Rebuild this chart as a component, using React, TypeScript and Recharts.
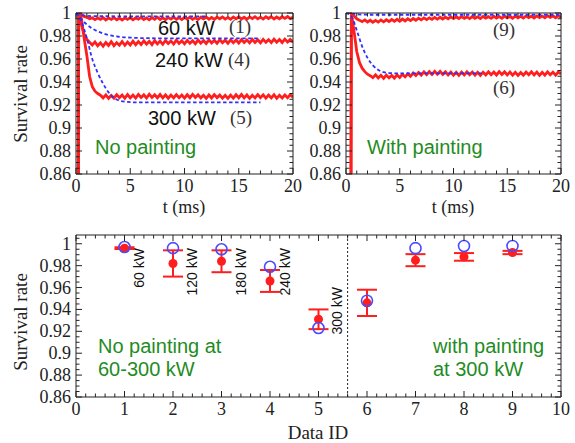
import React from 'react';
import { ComposedChart, Line, Scatter, ErrorBar, XAxis, YAxis, ReferenceLine } from 'recharts';

// time axis shared by the measured (red) traces, ms
const tMs = [
  0, 0.25, 0.5, 0.75, 1, 1.25, 1.5, 1.75, 2, 2.25,
  2.5, 2.75, 3, 3.25, 3.5, 3.75, 4, 4.25, 4.5, 4.75,
  5, 5.25, 5.5, 5.75, 6, 6.25, 6.5, 6.75, 7, 7.25,
  7.5, 7.75, 8, 8.25, 8.5, 8.75, 9, 9.25, 9.5, 9.75,
  10, 10.25, 10.5, 10.75, 11, 11.25, 11.5, 11.75, 12, 12.25,
  12.5, 12.75, 13, 13.25, 13.5, 13.75, 14, 14.25, 14.5, 14.75,
  15, 15.25, 15.5, 15.75, 16, 16.25, 16.5, 16.75, 17, 17.25,
  17.5, 17.75, 18, 18.25, 18.5, 18.75, 19, 19.25, 19.5, 19.75,
  20,
];

// measured survival, no painting
const meas60 = [
  0, 1.0, 0.9985, 0.997, 0.9962, 0.995, 0.9958, 0.9942, 0.9957, 0.9944,
  0.9959, 0.994, 0.9956, 0.9945, 0.9961, 0.9941, 0.9955, 0.9939, 0.9958, 0.9944,
  0.996, 0.9942, 0.9957, 0.9946, 0.9962, 0.9943, 0.9958, 0.9941, 0.996, 0.9945,
  0.9963, 0.9944, 0.9958, 0.9942, 0.9961, 0.9947, 0.9964, 0.9945, 0.9959, 0.9943,
  0.9962, 0.9948, 0.9964, 0.9945, 0.996, 0.9943, 0.9963, 0.9949, 0.9965, 0.9946,
  0.9961, 0.9944, 0.9964, 0.995, 0.9966, 0.9947, 0.9962, 0.9945, 0.9965, 0.9949,
  0.9967, 0.9948, 0.9963, 0.9946, 0.9966, 0.9951, 0.9968, 0.9949, 0.9964, 0.9947,
  0.9967, 0.9952, 0.9968, 0.9948, 0.9965, 0.995, 0.9967, 0.9953, 0.9969, 0.9951,
  0.9962,
];
const meas240 = [
  0, 1.0, 0.99, 0.9815, 0.977, 0.9745, 0.9722, 0.9748, 0.9715, 0.974,
  0.9712, 0.9744, 0.9718, 0.975, 0.9716, 0.9742, 0.972, 0.9752, 0.9719, 0.9747,
  0.9722, 0.9755, 0.9724, 0.9751, 0.9726, 0.9758, 0.9729, 0.9754, 0.9725, 0.976,
  0.9731, 0.9756, 0.9728, 0.9761, 0.9734, 0.9757, 0.973, 0.9764, 0.9735, 0.9759,
  0.9732, 0.9762, 0.9736, 0.9758, 0.9733, 0.9765, 0.9738, 0.9761, 0.9735, 0.9766,
  0.974, 0.9763, 0.9736, 0.9768, 0.9741, 0.9764, 0.9737, 0.9767, 0.9742, 0.9765,
  0.9739, 0.9769, 0.9743, 0.9766, 0.974, 0.977, 0.9744, 0.9767, 0.9741, 0.9771,
  0.9745, 0.9768, 0.9742, 0.9772, 0.9746, 0.9769, 0.9743, 0.9773, 0.9747, 0.977,
  0.9748,
];
const meas300 = [
  0, 1.0, 0.995, 0.978, 0.963, 0.945, 0.936, 0.932, 0.93, 0.9285,
  0.9262, 0.9288, 0.9258, 0.9283, 0.926, 0.929, 0.9263, 0.9286, 0.9259, 0.9291,
  0.9262, 0.9287, 0.926, 0.9292, 0.9265, 0.9288, 0.9261, 0.9294, 0.9266, 0.9289,
  0.9263, 0.9291, 0.9262, 0.9288, 0.9259, 0.9286, 0.9261, 0.929, 0.9264, 0.9287,
  0.926, 0.9289, 0.9263, 0.9292, 0.9265, 0.9288, 0.9262, 0.9285, 0.9258, 0.9287,
  0.9261, 0.929, 0.9264, 0.9286, 0.9259, 0.9284, 0.9257, 0.9286, 0.926, 0.9289,
  0.9263, 0.9291, 0.9262, 0.9287, 0.9258, 0.9285, 0.9261, 0.929, 0.9264, 0.9288,
  0.926, 0.9286, 0.9262, 0.9289, 0.9258, 0.9284, 0.9261, 0.9287, 0.9263, 0.929,
  0.9268,
];
// measured survival, with painting at 300 kW
const meas9 = [
  0, 0, 1.0, 0.9975, 0.995, 0.9938, 0.9925, 0.994, 0.9922, 0.9937,
  0.992, 0.9936, 0.9921, 0.9939, 0.9923, 0.9941, 0.9926, 0.9943, 0.9928, 0.9945,
  0.9929, 0.9947, 0.9931, 0.995, 0.9934, 0.9952, 0.9937, 0.9955, 0.994, 0.9957,
  0.9942, 0.9958, 0.9944, 0.9961, 0.9947, 0.9963, 0.9948, 0.9964, 0.995, 0.9966,
  0.9951, 0.9967, 0.9952, 0.9968, 0.9953, 0.9966, 0.9951, 0.9969, 0.9954, 0.9967,
  0.9952, 0.997, 0.9955, 0.9968, 0.9953, 0.9971, 0.9956, 0.9969, 0.9954, 0.9972,
  0.9957, 0.997, 0.9955, 0.9973, 0.9958, 0.9971, 0.9956, 0.9974, 0.9959, 0.9972,
  0.9957, 0.9975, 0.996, 0.9973, 0.9958, 0.9976, 0.9961, 0.9974, 0.9959, 0.9977,
  0.9962,
];
const meas6 = [
  0, 0, 1.0, 0.984, 0.9665, 0.957, 0.952, 0.949, 0.9468, 0.9455,
  0.9438, 0.9462, 0.9435, 0.9458, 0.9432, 0.946, 0.9436, 0.9457, 0.9434, 0.9462,
  0.944, 0.9466, 0.9445, 0.9471, 0.945, 0.9478, 0.9456, 0.9482, 0.946, 0.9488,
  0.9463, 0.949, 0.9466, 0.9493, 0.9468, 0.9492, 0.9465, 0.9489, 0.9462, 0.9487,
  0.946, 0.9485, 0.9458, 0.9486, 0.9461, 0.9488, 0.9463, 0.9486, 0.946, 0.9484,
  0.9457, 0.9485, 0.9462, 0.9489, 0.9464, 0.9487, 0.9461, 0.949, 0.9465, 0.9488,
  0.9462, 0.9486, 0.9459, 0.9484, 0.9457, 0.9483, 0.946, 0.9487, 0.9463, 0.9489,
  0.9461, 0.9486, 0.9458, 0.9485, 0.946, 0.9488, 0.9462, 0.9484, 0.9459, 0.9487,
  0.947,
];

// simulation (blue dashed)
const simT60 = [0, 0.5, 1, 2, 12];
const sim60 = [1, 0.9982, 0.9975, 0.9972, 0.997];
const simT240 = [0, 0.5, 1, 1.5, 2, 2.5, 3, 4, 5, 6, 8, 17];
const sim240 = [1, 0.9945, 0.99, 0.9865, 0.984, 0.9822, 0.9808, 0.9793, 0.9786, 0.9782, 0.978, 0.978];
const simT300 = [0, 0.5, 1, 1.5, 2, 2.5, 3, 3.5, 4, 5, 6, 17];
const sim300 = [1, 0.9925, 0.978, 0.96, 0.948, 0.9385, 0.931, 0.9262, 0.9238, 0.9225, 0.9222, 0.9222];
const simT9 = [0, 0.4, 1, 2, 20];
const sim9 = [1, 1, 0.9988, 0.9985, 0.9985];
const simT6 = [0, 0.5, 1, 1.5, 2, 2.5, 3, 3.5, 4, 5, 6, 12.6];
const sim6 = [1, 0.997, 0.985, 0.971, 0.961, 0.9545, 0.9505, 0.9485, 0.9478, 0.9475, 0.9475, 0.9475];

// summary panel
const dataId = [1, 2, 3, 4, 5, 6, 7, 8, 9];
const simFinal = [0.997, 0.996, 0.995, 0.979, 0.923, 0.948, 0.996, 0.998, 0.998];
const measFinal = [0.996, 0.982, 0.984, 0.966, 0.931, 0.946, 0.985, 0.988, 0.992];
const measErr = [0.0008, 0.012, 0.01, 0.01, 0.009, 0.012, 0.0055, 0.0035, 0.0015];
const paintingSplit = 5.6;

const timeMajor = [0, 5, 10, 15, 20];
const idMajor = [0, 1, 2, 3, 4, 5, 6, 7, 8, 9, 10];
const rateMajor = [0.86, 0.88, 0.9, 0.92, 0.94, 0.96, 0.98, 1];

const steps = (from: number, to: number, step: number) => {
  const out: number[] = [];
  for (let v = from; v <= to + 1e-9; v += step) out.push(Number(v.toFixed(4)));
  return out;
};
const timeTicks = steps(0, 20, 1);
const idTicks = steps(0, 10, 0.2);
const rateTicks = steps(0.86, 1, 0.005);
const rateTicksWide = steps(0.86, 1.005, 0.005);

const toSeries = (xs: number[], ys: number[]) => xs.map((t, i) => ({ t, v: ys[i] }));

const RED = '#ff1e1e';
const BLUE = '#2f2fff';
const GREEN = '#1f8c1f';
const SERIF = '"Liberation Serif", "Times New Roman", serif';
const SANS = '"Liberation Sans", Arial, sans-serif';

type Side = 'left' | 'right' | 'top' | 'bottom';
const fmt = (v: number) => String(Number(v.toFixed(3)));

const renderTick = (side: Side, majors: number[], showLabel: boolean) => (props: any) => {
  const { x, y, payload } = props;
  const v = payload.value as number;
  const major = majors.some((m) => Math.abs(m - v) < 1e-6);
  const len = major ? 6 : 3.5;
  let x2 = x;
  let y2 = y;
  if (side === 'bottom') y2 = y - len;
  if (side === 'top') y2 = y + len;
  if (side === 'left') x2 = x + len;
  if (side === 'right') x2 = x - len;
  return (
    <g>
      <line x1={x} y1={y} x2={x2} y2={y2} stroke="#222" strokeWidth={1} />
      {showLabel && major && side === 'bottom' && (
        <text x={x} y={y + 18} textAnchor="middle" fontFamily={SERIF} fontSize={18} fill="#222">
          {fmt(v)}
        </text>
      )}
      {showLabel && major && side === 'left' && (
        <text x={x - 5} y={y + 6} textAnchor="end" fontFamily={SERIF} fontSize={18} fill="#222">
          {fmt(v)}
        </text>
      )}
    </g>
  );
};

// four framing axes with inward ticks (1px thick so recharts still draws them)
const frameAxes = (xDom: number[], xTicks: number[], xMajor: number[], xKey: string, yDom: number[], yTicks: number[]) => [
  <XAxis key="xb" xAxisId="b" type="number" dataKey={xKey} domain={xDom} ticks={xTicks} interval={0} allowDataOverflow
    height={1} tickSize={0} tickMargin={0} tickLine={false} axisLine={{ stroke: '#222' }} tick={renderTick('bottom', xMajor, true)} />,
  <XAxis key="xt" xAxisId="t" orientation="top" type="number" dataKey={xKey} domain={xDom} ticks={xTicks} interval={0} allowDataOverflow
    height={1} tickSize={0} tickMargin={0} tickLine={false} axisLine={{ stroke: '#222' }} tick={renderTick('top', xMajor, false)} />,
  <YAxis key="yl" yAxisId="l" type="number" dataKey="v" domain={yDom} ticks={yTicks} interval={0} allowDataOverflow
    width={1} tickSize={0} tickMargin={0} tickLine={false} axisLine={{ stroke: '#222' }} tick={renderTick('left', rateMajor, true)} />,
  <YAxis key="yr" yAxisId="r" orientation="right" type="number" dataKey="v" domain={yDom} ticks={yTicks} interval={0} allowDataOverflow
    width={1} tickSize={0} tickMargin={0} tickLine={false} axisLine={{ stroke: '#222' }} tick={renderTick('right', rateMajor, false)} />,
];

const measLine = (key: string, ys: number[]) => (
  <Line key={key} xAxisId="b" yAxisId="l" data={toSeries(tMs, ys)} dataKey="v" type="linear" stroke={RED}
    strokeWidth={2.8} dot={false} isAnimationActive={false} />
);
const simLine = (key: string, xs: number[], ys: number[]) => (
  <Line key={key} xAxisId="b" yAxisId="l" data={toSeries(xs, ys)} dataKey="v" type="monotone" stroke={BLUE}
    strokeWidth={1.8} strokeDasharray="3.5 2.5" dot={false} isAnimationActive={false} />
);

const measPoints = dataId.map((id, i) => ({ id, v: measFinal[i], err: measErr[i] }));
const simPoints = dataId.map((id, i) => ({ id, v: simFinal[i] }));

const Lbl = ({ x, y, children, font = SANS, size = 20, fill = '#111', rot = false, anchor = 'start' }: any) => (
  <text x={x} y={y} fontFamily={font} fontSize={size} fill={fill} textAnchor={anchor}
    transform={rot ? `rotate(-90 ${x} ${y})` : undefined}>
    {children}
  </text>
);

export default function App() {
  return (
    <div style={{ position: 'absolute', left: 0, top: 0, width: 575, height: 443, background: '#fff' }}>
      <div style={{ position: 'absolute', left: 0, top: 0 }}>
        <ComposedChart width={312} height={215} margin={{ top: 12, right: 18, bottom: 40, left: 75 }}>
          {frameAxes([0, 20], timeTicks, timeMajor, 't', [0.86, 1], rateTicks)}
          {measLine('m60', meas60)}
          {measLine('m240', meas240)}
          {measLine('m300', meas300)}
          {simLine('s60', simT60, sim60)}
          {simLine('s240', simT240, sim240)}
          {simLine('s300', simT300, sim300)}
        </ComposedChart>
      </div>
      <div style={{ position: 'absolute', left: 300, top: 0 }}>
        <ComposedChart width={275} height={215} margin={{ top: 12, right: 13, bottom: 40, left: 45 }}>
          {frameAxes([0, 20], timeTicks, timeMajor, 't', [0.86, 1], rateTicks)}
          {measLine('m9', meas9)}
          {measLine('m6', meas6)}
          {simLine('s9', simT9, sim9)}
          {simLine('s6', simT6, sim6)}
        </ComposedChart>
      </div>
      <div style={{ position: 'absolute', left: 0, top: 215 }}>
        <ComposedChart width={575} height={228} margin={{ top: 19, right: 13, bottom: 45, left: 75 }}>
          {frameAxes([0, 10], idTicks, idMajor, 'id', [0.86, 1.008], rateTicksWide)}
          <ReferenceLine xAxisId="b" yAxisId="l" x={paintingSplit} stroke="#222" strokeDasharray="2 2" />
          <Scatter xAxisId="b" yAxisId="l" data={measPoints} dataKey="v" isAnimationActive={false}
            shape={(p: any) => <circle cx={p.cx} cy={p.cy} r={4.5} fill={RED} />}>
            <ErrorBar dataKey="err" direction="y" width={10} stroke={RED} strokeWidth={2} isAnimationActive={false} />
          </Scatter>
          <Scatter xAxisId="b" yAxisId="l" data={simPoints} dataKey="v" isAnimationActive={false}
            shape={(p: any) => <circle cx={p.cx} cy={p.cy} r={5.5} fill="none" stroke="#4a4aff" strokeWidth={1.6} />} />
        </ComposedChart>
      </div>
      <svg width={575} height={443} style={{ position: 'absolute', left: 0, top: 0, pointerEvents: 'none' }}>
        <Lbl x={27} y={94} font={SERIF} size={19} fill="#222" rot anchor="middle">Survival rate</Lbl>
        <Lbl x={27} y={322} font={SERIF} size={19} fill="#222" rot anchor="middle">Survival rate</Lbl>
        <Lbl x={184} y={213} font={SERIF} size={18} fill="#222" anchor="middle">t (ms)</Lbl>
        <Lbl x={453} y={213} font={SERIF} size={18} fill="#222" anchor="middle">t (ms)</Lbl>
        <Lbl x={318} y={439} font={SERIF} size={19} fill="#222" anchor="middle">Data ID</Lbl>

        <Lbl x={158} y={35}>60 kW</Lbl>
        <Lbl x={229} y={33} font={SERIF} size={19} fill="#333">(1)</Lbl>
        <Lbl x={155} y={67}>240 kW</Lbl>
        <Lbl x={228} y={66} font={SERIF} size={19} fill="#333">(4)</Lbl>
        <Lbl x={148} y={125}>300 kW</Lbl>
        <Lbl x={230} y={124} font={SERIF} size={19} fill="#333">(5)</Lbl>
        <Lbl x={95} y={154} fill={GREEN}>No painting</Lbl>

        <Lbl x={493} y={36} font={SERIF} size={19} fill="#333">(9)</Lbl>
        <Lbl x={493} y={94} font={SERIF} size={19} fill="#333">(6)</Lbl>
        <Lbl x={367} y={154} fill={GREEN}>With painting</Lbl>

        <Lbl x={144} y={248} size={14} rot anchor="end">60 kW</Lbl>
        <Lbl x={197} y={248} size={14} rot anchor="end">120 kW</Lbl>
        <Lbl x={246} y={248} size={14} rot anchor="end">180 kW</Lbl>
        <Lbl x={290} y={248} size={14} rot anchor="end">240 kW</Lbl>
        <Lbl x={342} y={287} size={14} rot anchor="end">300 kW</Lbl>
        <Lbl x={98} y={353} fill={GREEN}>No painting at</Lbl>
        <Lbl x={98} y={376} fill={GREEN}>60-300 kW</Lbl>
        <Lbl x={433} y={353} fill={GREEN}>with painting</Lbl>
        <Lbl x={433} y={376} fill={GREEN}>at 300 kW</Lbl>
      </svg>
    </div>
  );
}
